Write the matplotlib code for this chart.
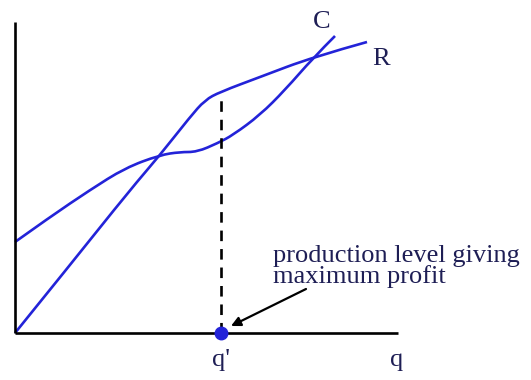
import matplotlib
matplotlib.use('Agg')
import matplotlib.pyplot as plt
from matplotlib.path import Path
from matplotlib.patches import PathPatch
import numpy as np

# cost curve C (with fixed cost) and revenue curve R
c_q = [0, 35, 75, 110, 145, 165, 182, 203, 218, 245, 270, 298, 320]
c_y = [91, 116, 143, 165, 178, 181, 181, 190, 198, 218, 243, 275, 297]
r_q = [0, 55, 115, 145, 175, 190, 205, 245, 298, 352]
r_y = [0, 68, 143, 178, 216, 233, 241, 256, 276, 291]

q_best = 206          # q'
q_best_top = 240      # height of dashed line (on R)
q_max = 383
y_max = 311

blue = '#2323d8'
navy = '#1e1e55'


def smooth_path(xs, ys):
    # quadratic bezier through midpoints -> smooth curve
    pts = list(zip(xs, ys))
    verts = [pts[0]]
    codes = [Path.MOVETO]
    for i in range(1, len(pts) - 1):
        mid = ((pts[i][0] + pts[i + 1][0]) / 2, (pts[i][1] + pts[i + 1][1]) / 2)
        if i == len(pts) - 2:
            mid = pts[-1]
        verts += [pts[i], mid]
        codes += [Path.CURVE3, Path.CURVE3]
    return Path(verts, codes)


fig = plt.figure(figsize=(5.31, 3.80), dpi=100)
ax = fig.add_axes([0, 0, 1, 1])
ax.set_xlim(-15, 516)
ax.set_ylim(-47, 333)
ax.axis('off')

# axes
ax.plot([0, 0], [0, y_max], color='black', lw=1.9, solid_capstyle='butt')
ax.plot([0, q_max], [0, 0], color='black', lw=1.9, solid_capstyle='butt')

ax.add_patch(PathPatch(smooth_path(c_q, c_y), fill=False, edgecolor=blue, lw=1.9))
ax.add_patch(PathPatch(smooth_path(r_q, r_y), fill=False, edgecolor=blue, lw=1.9))

ax.plot([q_best, q_best], [0, q_best_top], color='black', lw=1.9,
        linestyle=(0, (4, 3)))
ax.plot([q_best], [0], 'o', color=blue, markersize=9, zorder=5)

font = 'Liberation Serif'
ax.text(307, 311, 'C', fontsize=19, family=font, color=navy, ha='center', va='center')
ax.text(366, 274, 'R', fontsize=19, family=font, color=navy, ha='center', va='center')
ax.text(q_best, -27, "q'", fontsize=19, family=font, color=navy, ha='center', va='center')
ax.text(382, -27, 'q', fontsize=19, family=font, color=navy, ha='center', va='center')

ax.text(258, 50, 'production level giving\nmaximum profit', fontsize=19,
        family=font, color=navy, ha='left', va='baseline', linespacing=0.9)

ax.annotate('', xy=(q_best + 10, 7), xytext=(291, 44),
            arrowprops=dict(arrowstyle='-|>', color='black', lw=1.6,
                            mutation_scale=14, shrinkA=0, shrinkB=0))

fig.savefig('out.png', dpi=100)
